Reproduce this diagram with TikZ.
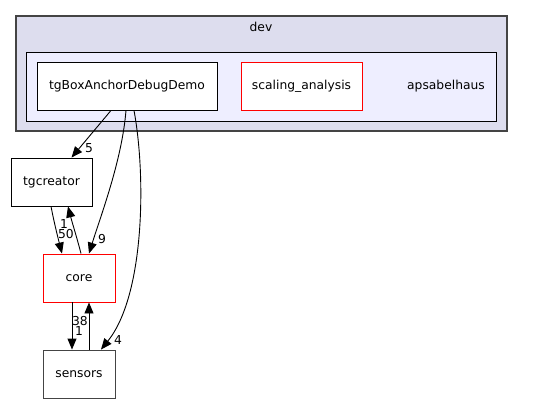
\documentclass[tikz,border=0pt]{standalone}
\usepackage{fontspec}
\setmainfont{DejaVu Sans}
\usetikzlibrary{arrows.meta, positioning}
\definecolor{clusterbg}{RGB}{221, 221, 238}
\definecolor{innerbg}{RGB}{238, 238, 255}
\definecolor{frameline}{RGB}{68, 68, 68}
\definecolor{dirred}{RGB}{255, 0, 0}

\begin{document}
\begin{tikzpicture}[x=1pt, y=-1pt,
    dirbox/.style={draw=black, fill=white, line width=0.9pt, minimum height=48pt, inner sep=0pt, font=\fontsize{12.3}{14}\selectfont},
    lbl/.style={font=\fontsize{12.3}{14}\selectfont, inner sep=0pt},
    dep/.style={-{Triangle[length=11pt, width=9pt]}, line width=0.9pt}]
  \useasboundingbox (0,0) rectangle (536,404);

  % clusters
  \node[draw=frameline, fill=clusterbg, line width=1.2pt, minimum width=491pt, minimum height=115pt, inner sep=0pt] (dev) at (261.5,73.5) {};
  \node[lbl] (devlabel) at (261,27) {dev};
  \node[draw=black, fill=innerbg, line width=0.9pt, minimum width=470pt, minimum height=69pt, inner sep=0pt] (aps) at (261,86.5) {};
  \node[lbl] (apslabel) at (446,86) {apsabelhaus};

  % directories
  \node[dirbox, minimum width=180pt] (tgb) at (127,86) {tgBoxAnchorDebugDemo};
  \node[dirbox, draw=dirred, minimum width=121pt] (scal) at (301.5,86) {scaling\_analysis};
  \node[dirbox, minimum width=81pt] (tgc) at (51.5,182) {tgcreator};
  \node[dirbox, draw=dirred, minimum width=72pt] (core) at (79,278) {core};
  \node[dirbox, draw=frameline, minimum width=72pt] (sens) at (79,374) {sensors};

  % dependencies
  \draw[dep] ([xshift=-16pt]tgb.south) -- ([xshift=20pt]tgc.north);
  \draw[dep] ([xshift=-1pt]tgb.south) .. controls (122,160) and (101,215) .. ([xshift=10pt]core.north);
  \draw[dep] ([xshift=7pt]tgb.south) .. controls (146,175) and (145,295) .. ([xshift=22pt]sens.north);
  \draw[dep] ([xshift=-0.5pt]tgc.south) .. controls (54,222) and (58,238) .. ([xshift=-17pt]core.north);
  \draw[dep] ([xshift=2pt]core.north) .. controls (77,238) and (72,222) .. ([xshift=16.5pt]tgc.south);
  \draw[dep] ([xshift=-7pt]core.south) -- ([xshift=-7pt]sens.north);
  \draw[dep] ([xshift=10pt]sens.north) -- ([xshift=10pt]core.south);

  % edge counts
  \node[lbl] (n5) at (89,148) {5};
  \node[lbl] (n9) at (102,239) {9};
  \node[lbl] (n4) at (118,340) {4};
  \node[lbl] (n50) at (66,234) {50};
  \node[lbl] (n1a) at (64,224) {1};
  \node[lbl] (n38) at (80,321) {38};
  \node[lbl] (n1b) at (79,331) {1};
\end{tikzpicture}
\end{document}
